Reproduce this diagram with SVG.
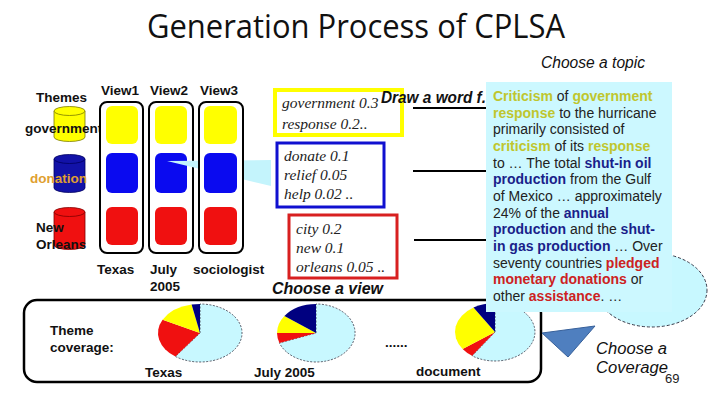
<svg xmlns="http://www.w3.org/2000/svg" width="720" height="405" viewBox="0 0 720 405">
<style>
.lb{font-family:"Liberation Sans",Arial,sans-serif;font-weight:bold;font-size:13.5px;fill:#111}
.it{font-family:"Liberation Sans",Arial,sans-serif;font-style:italic;font-size:16px;fill:#111}
.sf{font-family:"Liberation Serif","Times New Roman",serif;font-style:italic;font-size:15.5px;fill:#222}
.tx{font-family:"Liberation Sans",Arial,sans-serif;font-size:14px;fill:#222}
.o{font-weight:bold;fill:#BFC62E}
.n{font-weight:bold;fill:#1A1F8A}
.r{font-weight:bold;fill:#CC2222}
.col{fill:#fff;stroke:#000;stroke-width:2}
.y{fill:#FFFF00}
.b{fill:#0A0AF0}
.rd{fill:#F01010}
.pc{fill:#C8F8FF;stroke:#334;stroke-width:0.8;stroke-dasharray:2,1.5}
</style>

<rect width="720" height="405" fill="#fff"/>

<text x="147" y="38" font-family="'Open Sans',sans-serif" font-size="33" fill="#111" textLength="418" lengthAdjust="spacingAndGlyphs">Generation Process of CPLSA</text>
<text class="it" x="541" y="68" font-size="15.5" textLength="104" lengthAdjust="spacingAndGlyphs">Choose a topic</text>

<g id="themes">
  <text class="lb" x="36" y="102">Themes</text>
  <g id="cyl-government">
    <path d="M54,111 L54,137 A15.5,4.5 0 0 0 85,137 L85,111 Z" fill="#FFFF00" stroke="#7a7a00" stroke-width="0.8"/>
    <ellipse cx="69.5" cy="111" rx="15.5" ry="4.5" fill="#FFFF00" stroke="#7a7a00" stroke-width="0.8"/>
    <text class="lb" x="25" y="133" font-size="12">government</text>
  </g>
  <g id="cyl-donation">
    <path d="M54,159 L54,188 A15.5,4.5 0 0 0 85,188 L85,159 Z" fill="#1212A8" stroke="#000060" stroke-width="0.8"/>
    <ellipse cx="69.5" cy="159" rx="15.5" ry="4.5" fill="#1212A8" stroke="#000060" stroke-width="0.8"/>
    <text class="lb" x="30" y="183" style="fill:#E0A030">donation</text>
  </g>
  <g id="cyl-neworleans">
    <path d="M54,212 L54,245 A15.5,4.5 0 0 0 85,245 L85,212 Z" fill="#F01010" stroke="#800000" stroke-width="0.8"/>
    <ellipse cx="69.5" cy="212" rx="15.5" ry="4.5" fill="#F01010" stroke="#800000" stroke-width="0.8"/>
    <text class="lb" x="36" y="232">New</text>
    <text class="lb" x="36" y="249">Orleans</text>
  </g>
</g>

<g id="view1">
  <text class="lb" x="101" y="95" font-size="13">View1</text>
  <rect class="col" x="100" y="102" width="43" height="151" rx="7"/>
  <rect class="y" x="106" y="106" width="32" height="38" rx="6"/>
  <rect class="b" x="106" y="153" width="32" height="40" rx="6"/>
  <rect class="rd" x="106" y="207" width="32" height="38" rx="6"/>
  <text class="lb" x="97" y="274">Texas</text>
</g>
<g id="view2">
  <text class="lb" x="150" y="95" font-size="13">View2</text>
  <rect class="col" x="149" y="102" width="44" height="151" rx="7"/>
  <rect class="y" x="155" y="106" width="32" height="38" rx="6"/>
  <rect class="b" x="155" y="153" width="32" height="40" rx="6"/>
  <rect class="rd" x="155" y="207" width="32" height="38" rx="6"/>
  <text class="lb" x="150" y="274">July</text>
  <text class="lb" x="150" y="291">2005</text>
</g>

<g id="connectors">
  <polygon points="167,161 271,160 271,186" fill="#C4F4FC"/>
  <line x1="413" y1="108" x2="488" y2="108" stroke="#000" stroke-width="2"/>
  <line x1="413" y1="171" x2="488" y2="171" stroke="#000" stroke-width="2"/>
  <line x1="414" y1="240" x2="488" y2="240" stroke="#000" stroke-width="2"/>
</g>

<g id="view3">
  <text class="lb" x="200" y="95" font-size="13">View3</text>
  <rect class="col" x="199" y="102" width="44" height="151" rx="7"/>
  <rect class="y" x="204" y="106" width="33" height="38" rx="6"/>
  <rect class="b" x="204" y="153" width="33" height="40" rx="6"/>
  <rect class="rd" x="204" y="207" width="33" height="38" rx="6"/>
  <text class="lb" x="193" y="274">sociologist</text>
</g>

<g id="box-government">
  <rect x="275" y="90" width="127" height="45" fill="#fff" stroke="#FFFF00" stroke-width="4"/>
  <text class="sf" x="282" y="108">government 0.3</text>
  <text class="sf" x="282" y="129">response  0.2..</text>
</g>
<text class="it" x="381" y="103" font-weight="bold" textLength="105" lengthAdjust="spacingAndGlyphs">Draw a word f.</text>

<g id="box-donation">
  <rect x="277" y="143" width="107" height="64" fill="#fff" stroke="#1010D0" stroke-width="3"/>
  <text class="sf" x="284" y="161">donate  0.1</text>
  <text class="sf" x="284" y="180">relief 0.05</text>
  <text class="sf" x="284" y="199">help 0.02 ..</text>
</g>

<g id="box-neworleans">
  <rect x="289" y="215" width="108" height="63" fill="#fff" stroke="#D82020" stroke-width="3"/>
  <text class="sf" x="296" y="234">city 0.2</text>
  <text class="sf" x="296" y="253">new   0.1</text>
  <text class="sf" x="296" y="272">orleans 0.05 ..</text>
</g>
<text class="it" x="272" y="294" font-weight="bold" textLength="111" lengthAdjust="spacingAndGlyphs">Choose a view</text>

<g id="coverage">
  <rect x="24" y="300" width="517" height="82" rx="13" fill="#fff" stroke="#000" stroke-width="2.5"/>
  <text class="lb" x="50" y="335">Theme</text>
  <text class="lb" x="50" y="352">coverage:</text>
  <g id="pie-texas">
    <path class="pc" d="M200,333 L200,304 A42,29 0 1 1 175.4,356.5 Z"/>
    <path class="rd" d="M200,333 L175.4,356.5 A42,29 0 0 1 162.6,319.8 Z"/>
    <path class="y" d="M200,333 L162.6,319.8 A42,29 0 0 1 191.6,304.6 Z"/>
    <path fill="#000080" d="M200,333 L191.6,304.6 A42,29 0 0 1 200,304 Z"/>
    <text class="lb" x="145" y="377">Texas</text>
  </g>
  <g id="pie-july">
    <path class="pc" d="M316,333 L316,304 A39,29 0 1 1 279.4,342.9 Z"/>
    <path class="rd" d="M316,333 L279.4,342.9 A39,29 0 0 1 277,333 Z"/>
    <path class="y" d="M316,333 L277,333 A39,29 0 0 1 284.4,316 Z"/>
    <path fill="#000080" d="M316,333 L284.4,316 A39,29 0 0 1 316,304 Z"/>
    <text class="lb" x="254" y="377">July 2005</text>
  </g>
  <text class="lb" x="385" y="347">......</text>
  <g id="pie-document">
    <path class="pc" d="M495,332 L495,303 A40,29 0 1 1 472.1,355.8 Z"/>
    <path class="rd" d="M495,332 L472.1,355.8 A40,29 0 0 1 462.6,349 Z"/>
    <path class="y" d="M495,332 L462.6,349 A40,29 0 0 1 473.5,307.5 Z"/>
    <path fill="#000080" d="M495,332 L473.5,307.5 A40,29 0 0 1 495,303 Z"/>
    <text class="lb" x="416" y="376">document</text>
  </g>
</g>

<g id="callout">
  <ellipse cx="652" cy="290" rx="55" ry="37" fill="#C8F8FF" stroke="#223" stroke-width="0.9" stroke-dasharray="3,2"/>
</g>

<g id="document-text">
  <rect x="486" y="82" width="186" height="230" fill="#CCF8FF"/>
  <text class="tx" x="493" y="101"><tspan class="o">Criticism</tspan> of <tspan class="o">government</tspan></text>
  <text class="tx" x="493" y="117.7"><tspan class="o">response</tspan> to the hurricane</text>
  <text class="tx" x="493" y="134.3">primarily consisted of</text>
  <text class="tx" x="493" y="151"><tspan class="o">criticism</tspan> of its <tspan class="o">response</tspan></text>
  <text class="tx" x="493" y="167.7">to … The total <tspan class="n">shut-in oil</tspan></text>
  <text class="tx" x="493" y="184.3"><tspan class="n">production</tspan> from the Gulf</text>
  <text class="tx" x="493" y="201">of Mexico … approximately</text>
  <text class="tx" x="493" y="217.7">24% of the <tspan class="n">annual</tspan></text>
  <text class="tx" x="493" y="234.3"><tspan class="n">production</tspan> and the <tspan class="n">shut-</tspan></text>
  <text class="tx" x="493" y="251"><tspan class="n">in gas production</tspan> … Over</text>
  <text class="tx" x="493" y="267.7">seventy countries <tspan class="r">pledged</tspan></text>
  <text class="tx" x="493" y="284.3"><tspan class="r">monetary donations</tspan> or</text>
  <text class="tx" x="493" y="301">other <tspan class="r">assistance</tspan>. …</text>
</g>

<g id="choose-coverage">
  <polygon points="542,333 595,326 568,357" fill="#4F7FBF" stroke="#37609A" stroke-width="1"/>
  <text class="it" x="596" y="354" textLength="71" lengthAdjust="spacingAndGlyphs">Choose a</text>
  <text class="it" x="596" y="373" textLength="72" lengthAdjust="spacingAndGlyphs">Coverage</text>
  <text x="665" y="383" font-family="'Liberation Sans',Arial,sans-serif" font-size="13" fill="#222">69</text>
</g>
</svg>
